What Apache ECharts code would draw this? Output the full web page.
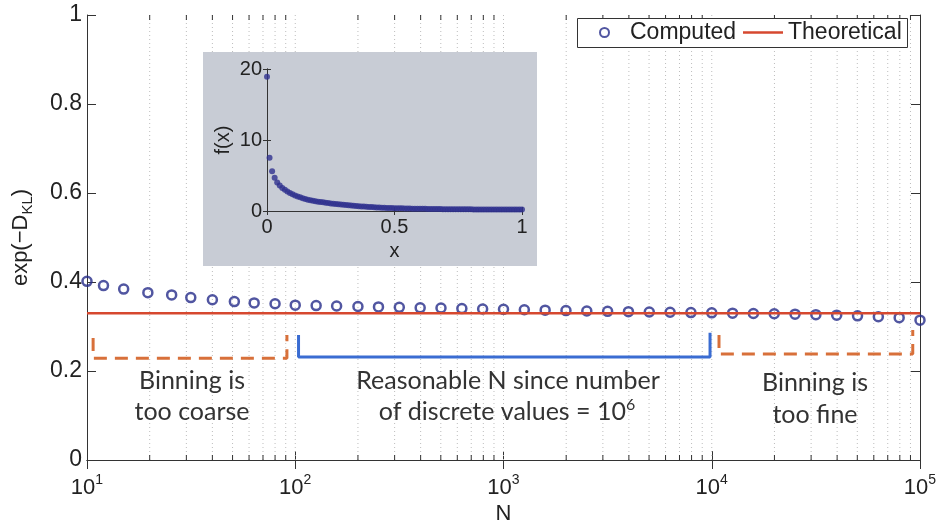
<!DOCTYPE html>
<html>
<head>
<meta charset="utf-8">
<script src="https://cdn.jsdelivr.net/npm/echarts@6/dist/echarts.min.js"></script>
<style>
  html, body { margin: 0; padding: 0; background: #fff; }
  #chart { width: 942px; height: 523px; }
</style>
</head>
<body>
<div id="chart"></div>
<script>
// Sample sizes N and the computed exp(-D_KL) at each of them
const sampleN = [
  10, 12, 15, 19.6, 25.5, 31.5, 40, 51, 63.5, 80,
  100, 126, 158, 200, 251, 316, 398, 501, 631, 794,
  1000, 1259, 1585, 1995, 2512, 3162, 3981, 5012, 6310, 7943,
  10000, 12589, 15849, 19953, 25119, 31623, 39811, 50119, 63096, 79433, 100000
];
const computedValues = [
  0.4015, 0.392, 0.384, 0.376, 0.371, 0.365, 0.360, 0.356, 0.353, 0.351,
  0.348, 0.347, 0.346, 0.345, 0.344, 0.343, 0.342, 0.3415, 0.3403, 0.3394,
  0.3385, 0.3376, 0.3367, 0.3358, 0.3349, 0.334, 0.3334, 0.3327, 0.332, 0.3313,
  0.3307, 0.330, 0.3293, 0.3287, 0.3278, 0.3266, 0.3255, 0.3239, 0.3221, 0.3199, 0.3143
];
// Theoretical value, constant over the N range
const theoreticalN = [10, 100000];
const theoreticalValue = 0.33;

// Brackets marking the three regimes of N: [N, y] corners
const coarseBracket = [[10.7, 0.274], [10.7, 0.2285], [91.2, 0.2285], [91.2, 0.281]];
const reasonableBracket = [[103.7, 0.281], [103.7, 0.2315], [9813, 0.2315], [9813, 0.286]];
const fineBracket = [[10835, 0.281], [10835, 0.238], [92300, 0.238], [92300, 0.292]];

// Inset: the underlying distribution f(x), sampled every 0.01
const insetX = [
  0.00, 0.01, 0.02, 0.03, 0.04, 0.05, 0.06, 0.07, 0.08, 0.09,
  0.10, 0.11, 0.12, 0.13, 0.14, 0.15, 0.16, 0.17, 0.18, 0.19,
  0.20, 0.21, 0.22, 0.23, 0.24, 0.25, 0.26, 0.27, 0.28, 0.29,
  0.30, 0.31, 0.32, 0.33, 0.34, 0.35, 0.36, 0.37, 0.38, 0.39,
  0.40, 0.41, 0.42, 0.43, 0.44, 0.45, 0.46, 0.47, 0.48, 0.49,
  0.50, 0.51, 0.52, 0.53, 0.54, 0.55, 0.56, 0.57, 0.58, 0.59,
  0.60, 0.61, 0.62, 0.63, 0.64, 0.65, 0.66, 0.67, 0.68, 0.69,
  0.70, 0.71, 0.72, 0.73, 0.74, 0.75, 0.76, 0.77, 0.78, 0.79,
  0.80, 0.81, 0.82, 0.83, 0.84, 0.85, 0.86, 0.87, 0.88, 0.89,
  0.90, 0.91, 0.92, 0.93, 0.94, 0.95, 0.96, 0.97, 0.98, 0.99, 1.00
];
const insetF = [
  18.9, 7.5, 5.6, 4.7, 4.0, 3.6, 3.25, 3.0, 2.75, 2.55,
  2.35, 2.2, 2.05, 1.92, 1.8, 1.7, 1.6, 1.52, 1.45, 1.38,
  1.32, 1.27, 1.22, 1.17, 1.12, 1.07, 1.03, 0.99, 0.95, 0.91,
  0.87, 0.83, 0.8, 0.77, 0.74, 0.71, 0.68, 0.65, 0.62, 0.6,
  0.57, 0.55, 0.53, 0.51, 0.49, 0.47, 0.46, 0.44, 0.43, 0.41,
  0.40, 0.39, 0.38, 0.37, 0.36, 0.35, 0.34, 0.33, 0.32, 0.31,
  0.31, 0.30, 0.30, 0.29, 0.29, 0.28, 0.28, 0.27, 0.27, 0.26,
  0.26, 0.25, 0.25, 0.25, 0.24, 0.24, 0.24, 0.23, 0.23, 0.23,
  0.23, 0.22, 0.22, 0.22, 0.22, 0.21, 0.21, 0.21, 0.21, 0.21,
  0.21, 0.20, 0.20, 0.20, 0.20, 0.20, 0.20, 0.20, 0.20, 0.20, 0.20
];

// Log-axis grid positions: 1..9 times each decade
const decades = [10, 100, 1000, 10000, 100000];
const gridN = [];
decades.forEach(function (d) {
  for (let m = 1; m <= 9; m++) {
    if (m * d <= 100000) gridN.push(m * d);
  }
});

const AXIS_FONT = '"Liberation Sans", Arial, Helvetica, sans-serif';
const NOTE_FONT = 'Lato, "Open Sans", sans-serif';
const TEXT = '#222';
const NAVY = '#262c8a';
const RED = '#d6482f';
const ORANGE = '#d8703a';
const BLUE = '#3a6cd2';

const pairs = (xs, ys) => xs.map((x, i) => [x, ys[i]]);

const chart = echarts.init(document.getElementById('chart'));

function isDecade(n) {
  const e = Math.log10(n);
  return Math.abs(e - Math.round(e)) < 1e-9;
}

function note(text, x, y) {
  return { type: 'text', x: x, y: y, z: 10, silent: true,
    style: { text: text, font: '25px ' + NOTE_FONT, fill: '#333', textAlign: 'center', textVerticalAlign: 'middle' } };
}

const option = {
  animation: false,
  backgroundColor: '#fff',
  grid: [
    { left: 87, right: 22, top: 15, bottom: 63, outerBoundsMode: 'none', containLabel: false },
    { left: 267, top: 69, width: 255, height: 142, outerBoundsMode: 'none', containLabel: false }
  ],
  legend: [
    {
      data: [{ name: 'Computed', icon: 'circle' }],
      left: 599, top: 21, padding: 0,
      itemWidth: 9, itemHeight: 9,
      textStyle: { fontFamily: AXIS_FONT, fontSize: 23, color: TEXT, padding: [0, 0, 0, 16] },
      z: 20
    },
    {
      data: [{ name: 'Theoretical', icon: 'rect' }],
      left: 743, top: 21, padding: 0,
      itemWidth: 40, itemHeight: 2.5,
      textStyle: { fontFamily: AXIS_FONT, fontSize: 23, color: TEXT },
      z: 20
    }
  ],
  xAxis: [
    {
      gridIndex: 0, type: 'log', logBase: 10, min: 10, max: 100000,
      name: 'N', nameLocation: 'middle', nameGap: 40,
      nameTextStyle: { fontFamily: AXIS_FONT, fontSize: 22, color: TEXT },
      axisLine: { lineStyle: { color: '#333', width: 1 } },
      axisTick: { inside: true, length: 9, lineStyle: { color: '#333' } },
      splitLine: { show: false },
      axisLabel: {
        margin: 13, showMinLabel: true, showMaxLabel: true,
        formatter: function (v) { return '{b|10}{s|' + Math.round(Math.log10(v)) + '}'; },
        rich: {
          b: { fontFamily: AXIS_FONT, fontSize: 22, color: TEXT, lineHeight: 22, padding: [7, 0, 0, 0] },
          s: { fontFamily: AXIS_FONT, fontSize: 14, color: TEXT, lineHeight: 14, verticalAlign: 'top' }
        }
      }
    },
    {
      gridIndex: 0, type: 'log', logBase: 10, min: 10, max: 100000, position: 'top',
      axisLine: { lineStyle: { color: '#333', width: 1 } },
      axisTick: { inside: true, length: 9, lineStyle: { color: '#333' } },
      axisLabel: { show: false }, splitLine: { show: false }
    },
    {
      gridIndex: 1, type: 'value', min: 0, max: 1, interval: 0.5, z: 5,
      name: 'x', nameLocation: 'middle', nameGap: 30,
      nameTextStyle: { fontFamily: AXIS_FONT, fontSize: 20, color: TEXT },
      axisLine: { lineStyle: { color: '#333', width: 1 } },
      axisTick: { inside: true, length: 4, lineStyle: { color: '#333' } },
      splitLine: { show: false },
      axisLabel: { margin: 6, fontFamily: AXIS_FONT, fontSize: 20, color: TEXT }
    },
    {
      gridIndex: 1, type: 'value', min: 0, max: 1, interval: 0.5, position: 'top', z: 5,
      axisLine: { lineStyle: { color: '#333', width: 1 } },
      axisTick: { inside: true, length: 4, lineStyle: { color: '#333' } },
      axisLabel: { show: false }, splitLine: { show: false }
    }
  ],
  yAxis: [
    {
      gridIndex: 0, type: 'value', min: 0, max: 1, interval: 0.2,
      name: '{a|exp(\u2212D}{k|KL}{a|)}', nameLocation: 'middle', nameRotate: 90, nameGap: 52,
      nameTextStyle: {
        rich: {
          a: { fontFamily: AXIS_FONT, fontSize: 22, color: TEXT, lineHeight: 22, padding: [0, 0, 6, 0] },
          k: { fontFamily: AXIS_FONT, fontSize: 15, color: TEXT, lineHeight: 15, verticalAlign: 'bottom' }
        }
      },
      axisLine: { show: true, lineStyle: { color: '#333', width: 1 } },
      axisTick: { show: true, inside: true, length: 9, lineStyle: { color: '#333' } },
      splitLine: { show: false },
      axisLabel: { margin: 5, fontFamily: AXIS_FONT, fontSize: 23, color: TEXT }
    },
    {
      gridIndex: 0, type: 'value', min: 0, max: 1, interval: 0.2, position: 'right',
      axisLine: { show: true, lineStyle: { color: '#333', width: 1 } },
      axisTick: { show: true, inside: true, length: 9, lineStyle: { color: '#333' } },
      axisLabel: { show: false }, splitLine: { show: false }
    },
    {
      gridIndex: 1, type: 'value', min: 0, max: 20, interval: 10, z: 5,
      name: 'f(x)', nameLocation: 'middle', nameRotate: 90, nameGap: 34,
      nameTextStyle: { fontFamily: AXIS_FONT, fontSize: 20, color: TEXT },
      axisLine: { show: true, lineStyle: { color: '#333', width: 1 } },
      axisTick: { show: true, inside: true, length: 4, lineStyle: { color: '#333' } },
      splitLine: { show: false },
      axisLabel: { margin: 5, fontFamily: AXIS_FONT, fontSize: 20, color: TEXT }
    },
    {
      gridIndex: 1, type: 'value', min: 0, max: 20, interval: 10, position: 'right', z: 5,
      axisLine: { show: true, lineStyle: { color: '#333', width: 1 } },
      axisTick: { show: true, inside: true, length: 4, lineStyle: { color: '#333' } },
      axisLabel: { show: false }, splitLine: { show: false }
    }
  ],
  graphic: {
    elements: [
      // grey panel behind the inset
      { type: 'rect', left: 203, top: 52, z: 3, silent: true,
        shape: { width: 334, height: 214 }, style: { fill: '#c8ccd5' } },
      // frame around the legend entries
      { type: 'rect', left: 577, top: 18, z: 19, silent: true,
        shape: { width: 330, height: 29 }, style: { fill: '#fff', stroke: '#333', lineWidth: 1 } },
      note('Binning is', 192, 381),
      note('too coarse', 192, 412),
      note('Reasonable N since number', 508, 381),
      { type: 'text', x: 507, y: 409, z: 10, silent: true,
        style: {
          text: '{t|of discrete values = 10}{s|6}', textAlign: 'center', textVerticalAlign: 'middle',
          rich: {
            t: { font: '25px ' + NOTE_FONT, fill: '#333', lineHeight: 25, padding: [6, 0, 0, 0] },
            s: { font: '16px ' + NOTE_FONT, fill: '#333', lineHeight: 16, verticalAlign: 'top' }
          }
        } },
      note('Binning is', 815, 383),
      note('too fine', 815, 415)
    ]
  },
  series: [
    {
      // dotted log grid and minor ticks
      type: 'custom', xAxisIndex: 0, yAxisIndex: 0, z: 1, silent: true,
      data: gridN.map(function (n) { return [n, 0]; }),
      renderItem: function (params, api) {
        const n = api.value(0);
        const top = api.coord([n, 1]);
        const bot = api.coord([n, 0]);
        const children = [];
        if (n > 10 && n < 100000) {
          children.push({ type: 'line', shape: { x1: top[0], y1: top[1], x2: bot[0], y2: bot[1] },
            style: { stroke: '#bdbdbd', lineWidth: 1, lineDash: [1, 3] } });
        }
        if (!isDecade(n)) {
          children.push({ type: 'line', shape: { x1: bot[0], y1: bot[1], x2: bot[0], y2: bot[1] - 5 },
            style: { stroke: '#333', lineWidth: 1 } });
          children.push({ type: 'line', shape: { x1: top[0], y1: top[1], x2: top[0], y2: top[1] + 5 },
            style: { stroke: '#333', lineWidth: 1 } });
        }
        return { type: 'group', children: children };
      }
    },
    {
      name: 'Computed', type: 'scatter', xAxisIndex: 0, yAxisIndex: 0, z: 3,
      data: pairs(sampleN, computedValues),
      symbol: 'circle', symbolSize: 9,
      itemStyle: { color: 'rgba(0,0,0,0)', borderColor: NAVY, borderWidth: 2.5 }
    },
    {
      name: 'Theoretical', type: 'line', xAxisIndex: 0, yAxisIndex: 0, z: 4,
      data: theoreticalN.map(function (n) { return [n, theoreticalValue]; }),
      symbol: 'none', lineStyle: { color: RED, width: 2.5 }, itemStyle: { color: RED }
    },
    {
      type: 'line', xAxisIndex: 0, yAxisIndex: 0, z: 4, silent: true,
      data: coarseBracket, symbol: 'none',
      lineStyle: { color: ORANGE, width: 3, type: [13, 8] }
    },
    {
      type: 'line', xAxisIndex: 0, yAxisIndex: 0, z: 4, silent: true,
      data: reasonableBracket, symbol: 'none',
      lineStyle: { color: BLUE, width: 3 }
    },
    {
      type: 'line', xAxisIndex: 0, yAxisIndex: 0, z: 4, silent: true,
      data: fineBracket, symbol: 'none',
      lineStyle: { color: ORANGE, width: 3, type: [13, 8] }
    },
    {
      type: 'scatter', xAxisIndex: 2, yAxisIndex: 2, z: 6, silent: true, clip: false,
      data: pairs(insetX, insetF),
      symbol: 'circle', symbolSize: 6,
      itemStyle: { color: '#30318f' }
    }
  ]
};

chart.setOption(option);
</script>
</body>
</html>
